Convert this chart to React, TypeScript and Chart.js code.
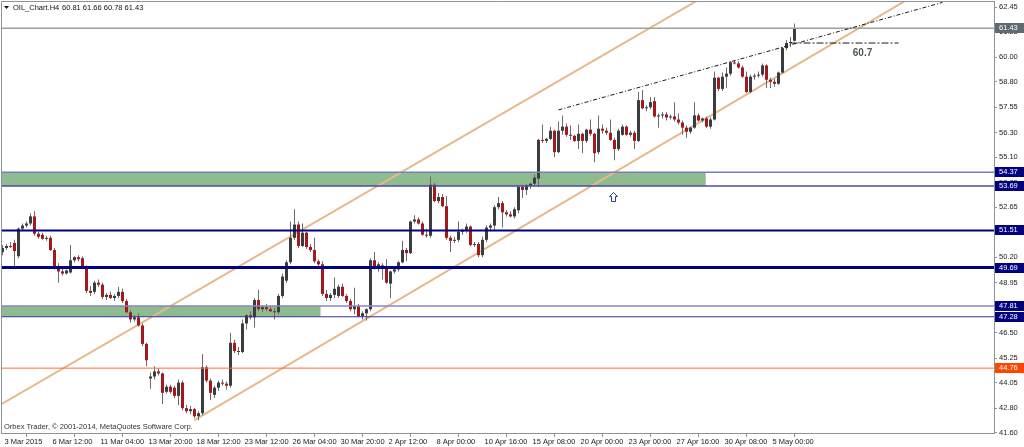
import { useEffect, useRef } from "react";
import { Chart, registerables } from "chart.js";

Chart.register(...registerables);

// ---------------- data ----------------
const symbolName = "OIL_Chart.H4";
const copyright = "Orbex Trader, © 2001-2014, MetaQuotes Software Corp.";

const opens = [
  50.45, 50.65, 50.75, 50.90, 50.25, 51.60, 51.75, 51.85, 52.20, 51.35,
  51.30, 51.10, 51.15, 50.55, 49.70, 49.50, 49.40, 49.45, 50.05, 50.20,
  50.15, 49.70, 48.55, 48.50, 48.95, 48.85, 48.25, 48.35, 48.20, 48.30,
  48.50, 48.05, 47.50, 47.15, 47.25, 46.85, 45.95, 44.25, 44.35, 44.60,
  44.50, 43.60, 43.85, 43.80, 43.40, 44.05, 42.80, 42.65, 42.75, 42.40,
  42.55, 44.80, 44.15, 43.45, 43.80, 44.05, 44.00, 43.90, 46.00, 45.60,
  45.55, 46.95, 47.35, 47.25, 48.10, 47.65, 47.75, 47.65, 47.55, 47.50,
  48.30, 49.05, 49.95, 51.15, 51.80, 50.75, 51.40, 50.70, 50.55, 50.00,
  49.85, 48.40, 48.20, 48.35, 48.30, 48.75, 48.30, 48.05, 47.65, 47.80,
  47.30, 47.45, 47.65, 50.05, 49.70, 49.80, 49.65, 48.90, 49.50, 49.60,
  49.95, 50.55, 50.40, 51.95, 52.05, 51.85, 51.30, 51.25, 53.75, 52.95,
  53.15, 52.70, 51.15, 51.00, 51.05, 51.45, 51.50, 51.70, 50.80, 50.85,
  50.30, 51.05, 51.65, 51.75, 52.65, 52.85, 52.40, 52.30, 52.20, 52.50,
  53.65, 53.50, 53.70, 53.80, 54.05, 55.95, 55.90, 56.00, 56.40, 55.35,
  56.40, 56.60, 56.20, 56.15, 55.90, 56.25, 55.90, 56.45, 56.25, 55.35,
  56.50, 56.40, 56.30, 55.95, 55.50, 56.20, 56.60, 56.20, 56.30, 55.90,
  57.90, 57.50, 57.55, 57.85, 57.10, 57.15, 57.20, 57.05, 57.10, 56.95,
  56.80, 56.55, 56.35, 56.55, 57.15, 56.90, 57.00, 56.60, 56.95, 59.00,
  58.45, 59.05, 59.20, 59.75, 59.70, 59.50, 59.05, 58.30, 59.05, 59.10,
  59.15, 59.60, 58.90, 58.80, 58.70, 59.25, 60.45, 60.70, 60.81,
];
const highs = [
  50.80, 50.85, 50.95, 51.05, 51.65, 51.85, 51.95, 52.35, 52.45, 51.45,
  51.40, 51.25, 51.25, 50.65, 49.90, 49.65, 49.60, 50.80, 50.25, 50.30,
  50.25, 49.80, 48.80, 49.05, 49.10, 48.95, 48.45, 48.50, 48.40, 48.75,
  48.65, 48.15, 47.60, 47.35, 47.45, 46.95, 46.00, 44.55, 44.85, 44.75,
  44.55, 43.95, 43.95, 43.90, 44.20, 44.15, 42.95, 42.90, 42.80, 42.65,
  45.45, 44.90, 44.25, 43.90, 44.15, 44.20, 44.10, 46.50, 46.15, 45.80,
  47.15, 47.40, 47.55, 48.20, 48.60, 47.85, 47.90, 47.80, 47.70, 48.40,
  49.40, 50.05, 51.95, 52.55, 51.95, 51.85, 51.45, 50.85, 51.15, 50.10,
  50.00, 48.60, 48.45, 49.20, 48.85, 48.90, 48.40, 48.15, 48.70, 47.90,
  47.55, 47.70, 50.15, 50.45, 49.95, 49.90, 50.10, 49.55, 49.70, 50.00,
  51.00, 50.65, 52.00, 52.25, 52.15, 51.95, 51.60, 54.15, 53.85, 53.35,
  53.30, 53.20, 51.25, 51.20, 51.95, 51.60, 51.85, 51.75, 50.95, 50.95,
  51.20, 51.75, 51.85, 52.75, 53.15, 52.95, 52.50, 52.45, 52.65, 53.70,
  53.75, 53.80, 53.85, 54.25, 56.00, 56.70, 56.05, 56.60, 56.45, 56.85,
  57.15, 56.75, 56.65, 56.20, 56.70, 56.30, 56.50, 56.95, 56.30, 57.15,
  56.70, 56.55, 56.95, 56.05, 56.50, 56.70, 56.65, 56.40, 56.40, 58.30,
  58.40, 57.65, 58.05, 58.05, 57.25, 57.30, 57.30, 57.20, 57.80, 57.25,
  56.90, 56.65, 56.60, 57.80, 57.25, 57.05, 57.10, 57.05, 59.30, 59.05,
  59.25, 59.50, 59.80, 59.85, 59.80, 59.60, 59.30, 59.15, 59.20, 59.30,
  59.70, 59.65, 59.00, 58.95, 59.30, 60.50, 60.85, 61.00, 61.66,
];
const lows = [
  50.30, 50.55, 50.65, 49.70, 50.15, 51.50, 51.65, 51.75, 51.25, 51.10,
  51.05, 51.00, 50.50, 49.60, 48.95, 49.30, 49.35, 49.40, 49.95, 50.00,
  49.65, 48.45, 48.30, 48.40, 48.75, 48.15, 48.10, 48.15, 48.05, 48.20,
  47.95, 47.45, 47.00, 47.05, 46.80, 45.85, 44.85, 43.75, 44.20, 44.40,
  43.00, 43.50, 43.50, 43.30, 42.95, 42.70, 42.55, 42.50, 42.30, 42.20,
  42.45, 44.05, 43.20, 43.30, 43.65, 43.90, 43.70, 43.80, 45.50, 45.40,
  45.50, 46.65, 47.15, 46.75, 47.55, 47.50, 47.55, 47.50, 47.15, 47.40,
  48.20, 48.95, 49.85, 51.05, 50.65, 50.70, 50.60, 50.45, 49.90, 49.70,
  48.30, 48.05, 48.05, 48.20, 48.20, 48.25, 47.95, 47.55, 47.40, 47.25,
  47.15, 47.10, 47.55, 49.60, 49.50, 49.10, 48.90, 48.20, 49.40, 49.50,
  49.90, 50.00, 50.35, 51.85, 51.80, 51.25, 51.15, 51.15, 52.90, 52.85,
  52.65, 51.05, 50.45, 50.90, 50.95, 51.30, 51.40, 50.75, 50.70, 50.20,
  50.20, 50.95, 51.50, 51.55, 52.55, 51.65, 52.20, 52.15, 52.10, 52.35,
  53.10, 53.25, 53.55, 53.70, 53.65, 55.80, 55.80, 55.95, 55.10, 55.30,
  56.20, 56.10, 55.95, 55.85, 55.50, 55.30, 55.80, 56.15, 54.85, 55.25,
  56.25, 56.20, 55.90, 54.95, 55.40, 56.15, 56.15, 56.10, 55.50, 55.85,
  57.45, 57.35, 57.45, 57.05, 56.55, 57.00, 56.90, 56.95, 56.85, 56.70,
  56.20, 56.05, 56.25, 56.50, 56.85, 56.80, 56.55, 56.50, 56.90, 58.35,
  58.35, 58.50, 59.10, 59.65, 59.45, 59.00, 58.25, 58.25, 58.90, 59.00,
  59.05, 58.50, 58.50, 58.55, 58.65, 59.20, 60.35, 60.50, 60.78,
];
const closes = [
  50.65, 50.75, 50.70, 50.50, 51.60, 51.75, 51.85, 52.20, 51.35, 51.20,
  51.10, 51.15, 50.55, 49.70, 49.50, 49.40, 49.55, 50.05, 50.20, 50.10,
  49.70, 48.55, 48.45, 48.95, 48.85, 48.25, 48.35, 48.20, 48.30, 48.50,
  48.05, 47.50, 47.15, 47.25, 46.85, 45.95, 45.15, 44.35, 44.60, 44.50,
  43.55, 43.85, 43.60, 43.40, 44.05, 42.80, 42.65, 42.75, 42.40, 42.55,
  44.80, 44.15, 43.55, 43.80, 44.05, 44.00, 43.90, 46.00, 45.60, 45.55,
  46.95, 47.35, 47.25, 48.10, 47.65, 47.75, 47.65, 47.55, 47.50, 48.30,
  49.25, 49.95, 51.15, 51.80, 50.75, 51.40, 50.70, 50.55, 50.00, 49.85,
  48.40, 48.20, 48.35, 48.65, 48.75, 48.30, 48.05, 47.65, 47.80, 47.30,
  47.45, 47.65, 50.05, 49.70, 49.85, 49.65, 48.95, 49.50, 49.60, 49.95,
  50.55, 50.40, 51.95, 52.05, 51.85, 51.30, 51.25, 53.75, 52.95, 53.15,
  52.70, 51.15, 51.00, 51.05, 51.45, 51.50, 51.70, 50.80, 50.85, 50.30,
  51.05, 51.65, 51.75, 52.65, 52.85, 52.40, 52.30, 52.20, 52.55, 53.65,
  53.50, 53.70, 53.80, 54.10, 55.95, 55.90, 56.00, 56.40, 55.35, 56.40,
  56.60, 56.20, 56.15, 55.90, 56.25, 55.90, 56.45, 56.25, 55.30, 56.50,
  56.40, 56.30, 55.95, 55.50, 56.40, 56.60, 56.20, 56.30, 55.90, 57.90,
  57.50, 57.55, 57.80, 57.10, 57.15, 57.20, 57.05, 57.10, 56.95, 56.80,
  56.55, 56.35, 56.55, 57.15, 56.90, 57.00, 56.60, 56.95, 59.00, 58.45,
  59.05, 59.20, 59.75, 59.70, 59.50, 59.05, 58.30, 59.05, 59.10, 59.15,
  59.60, 58.90, 58.80, 58.70, 59.25, 60.45, 60.70, 60.75, 61.43,
];

const timeLabels = [
  "3 Mar 2015", "6 Mar 12:00", "11 Mar 04:00", "13 Mar 20:00", "18 Mar 12:00",
  "23 Mar 12:00", "26 Mar 04:00", "30 Mar 20:00", "2 Apr 12:00", "8 Apr 00:00",
  "10 Apr 16:00", "15 Apr 08:00", "20 Apr 00:00", "23 Apr 00:00", "27 Apr 16:00",
  "30 Apr 08:00", "5 May 00:00",
];
const barsPerLabel = 12;

const priceTicks = [
  62.45, 61.25, 60.0, 58.8, 57.55, 56.3, 55.1, 53.85, 52.65, 51.4,
  50.2, 48.95, 47.75, 46.5, 45.25, 44.05, 42.8, 41.6,
];

const levelPrices = [61.43, 54.37, 53.69, 51.51, 49.69, 47.81, 47.28, 44.76];

const zoneLow = [53.69, 47.28];
const zoneHigh = [54.37, 47.81];
const zoneEndBar = [175.8, 79.5];

const channelUpperX = [-1, 180];
const channelUpperY = [42.91, 63.5];
const channelLowerX = [48, 227];
const channelLowerY = [42.21, 62.92];
const wedgeX = [139, 235];
const wedgeY = [57.42, 62.69];
const targetPrice = 60.7;
const targetX = [197, 224];
const targetLabelBar = 215;
const targetLabelPrice = 60.21;
const arrowBar = 152.6;
const arrowPrice = 53.15;

// ---------------- styles / geometry ----------------
const X_MIN = -0.375;
const X_MAX = 247.875;
const Y_MIN = 41.58;
const Y_MAX = 62.76;

const FONT_FAMILY = "'Liberation Sans', Arial, sans-serif";
const AXIS_COLOR = "#8a9499";
const TEXT_COLOR = "#222222";
const BULL = "#3a3c40";
const BEAR = "#a5171a";
const WICK = "#6c6c6c";
const ZONE_FILL = "#8fbc8f";
const CHANNEL = "#e6b98a";

const levelStyles = [
  { color: "#a0a0a0", width: 1.5, box: "#5f6b72" },
  { color: "#7b7bc4", width: 1.5, box: "#000080" },
  { color: "#4a4aaa", width: 1.5, box: "#000080" },
  { color: "#000080", width: 2, box: "#000080" },
  { color: "#000080", width: 3, box: "#000080" },
  { color: "#8787cc", width: 1.5, box: "#000080" },
  { color: "#33339a", width: 1.2, box: "#000080" },
  { color: "#ff6a3d", width: 1, box: "#ff4500" },
];

const overlayPlugin = {
  id: "mtOverlay",
  beforeDatasetsDraw(chart: any) {
    const { ctx, chartArea: a, scales } = chart;
    const xs = scales.x;
    const ys = scales.y;
    ctx.save();
    ctx.beginPath();
    ctx.rect(a.left, a.top, a.right - a.left, a.bottom - a.top);
    ctx.clip();
    ctx.fillStyle = ZONE_FILL;
    zoneLow.forEach((lo, k) => {
      const y0 = ys.getPixelForValue(zoneHigh[k]);
      const y1 = ys.getPixelForValue(lo);
      const x1 = xs.getPixelForValue(zoneEndBar[k]);
      ctx.fillRect(a.left, y0, x1 - a.left, y1 - y0);
    });
    ctx.restore();
  },
  afterDraw(chart: any) {
    const { ctx, chartArea: a, scales } = chart;
    const xs = scales.x;
    const ys = scales.y;
    const W = chart.width;
    ctx.save();

    // frame (top + left)
    ctx.strokeStyle = AXIS_COLOR;
    ctx.lineWidth = 1;
    ctx.beginPath();
    ctx.moveTo(a.left + 0.5, a.bottom);
    ctx.lineTo(a.left + 0.5, a.top + 0.5);
    ctx.lineTo(a.right, a.top + 0.5);
    ctx.stroke();

    // target label
    ctx.font = `bold 10px ${FONT_FAMILY}`;
    ctx.fillStyle = "#50575d";
    ctx.textAlign = "center";
    ctx.textBaseline = "middle";
    ctx.fillText(
      String(targetPrice),
      xs.getPixelForValue(targetLabelBar),
      ys.getPixelForValue(targetLabelPrice)
    );

    // arrow mark
    const ax = Math.round(xs.getPixelForValue(arrowBar)) + 0.5;
    const ay = Math.round(ys.getPixelForValue(arrowPrice)) + 0.5;
    ctx.beginPath();
    ctx.moveTo(ax, ay - 5);
    ctx.lineTo(ax + 4, ay - 1);
    ctx.lineTo(ax + 2, ay - 1);
    ctx.lineTo(ax + 2, ay + 4);
    ctx.lineTo(ax - 2, ay + 4);
    ctx.lineTo(ax - 2, ay - 1);
    ctx.lineTo(ax - 4, ay - 1);
    ctx.closePath();
    ctx.fillStyle = "#ffffff";
    ctx.fill();
    ctx.strokeStyle = "#24457e";
    ctx.stroke();

    // price boxes on the axis
    ctx.font = `7.5px ${FONT_FAMILY}`;
    ctx.textAlign = "left";
    ctx.textBaseline = "middle";
    levelPrices.forEach((p, k) => {
      const y = ys.getPixelForValue(p);
      ctx.fillStyle = levelStyles[k].box;
      ctx.fillRect(a.right + 1, Math.round(y) - 5, W - a.right - 1, 10);
      ctx.fillStyle = "#ffffff";
      ctx.fillText(p.toFixed(2), a.right + 5, Math.round(y));
    });

    // title
    const last = opens.length - 1;
    ctx.fillStyle = "#111111";
    ctx.beginPath();
    ctx.moveTo(4, 6);
    ctx.lineTo(9, 6);
    ctx.lineTo(6.5, 9);
    ctx.closePath();
    ctx.fill();
    ctx.font = `7.5px ${FONT_FAMILY}`;
    ctx.fillText(symbolName, 13, 8);
    ctx.fillText(
      [opens[last], highs[last], lows[last], closes[last]].map((v) => v.toFixed(2)).join(" "),
      62,
      8
    );
    // copyright
    ctx.fillStyle = "#333333";
    ctx.fillText(copyright, 4, 427);
    ctx.restore();
  },
};

function lineSet(xsArr: number[], ysArr: number[], color: string, width: number, order: number, dash: number[] = []) {
  return {
    type: "line" as const,
    data: xsArr.map((x, i) => ({ x, y: ysArr[i] })),
    borderColor: color,
    borderWidth: width,
    borderDash: dash,
    pointRadius: 0,
    fill: false,
    tension: 0,
    order,
  };
}

export default function App() {
  const ref = useRef<HTMLCanvasElement>(null);

  useEffect(() => {
    const idx = opens.map((_, i) => i);
    const wickData = idx.map((i) => ({ x: i, y: [lows[i], highs[i]] }));
    const bodyData = idx.map((i) => ({ x: i, y: [opens[i], closes[i]] }));
    const bodyColors = idx.map((i) => (closes[i] >= opens[i] ? BULL : BEAR));

    const datasets: any[] = [
      lineSet(channelUpperX, channelUpperY, CHANNEL, 2, 10),
      lineSet(channelLowerX, channelLowerY, CHANNEL, 2, 10),
      {
        type: "bar",
        data: wickData,
        backgroundColor: WICK,
        borderWidth: 0,
        grouped: false,
        barThickness: 1,
        maxBarThickness: 1,
        inflateAmount: 0,
        order: 6,
      },
      {
        type: "bar",
        data: bodyData,
        backgroundColor: bodyColors,
        borderWidth: 0,
        grouped: false,
        barThickness: 3,
        maxBarThickness: 3,
        minBarLength: 1,
        inflateAmount: 0,
        order: 5,
      },
      ...levelPrices.map((p, k) =>
        lineSet([X_MIN - 2, X_MAX + 2], [p, p], levelStyles[k].color, levelStyles[k].width, 3)
      ),
      lineSet(wedgeX, wedgeY, "#1a1a1a", 1, 2, [4, 2, 1, 2]),
      lineSet(targetX, [targetPrice, targetPrice], "#1a1a1a", 1, 2, [7, 2, 2, 2]),
    ];

    const tickFont = { family: FONT_FAMILY, size: 7.5 };

    const chart = new Chart(ref.current as HTMLCanvasElement, {
      type: "bar",
      data: { datasets },
      options: {
        animation: false,
        responsive: false,
        devicePixelRatio: 1,
        events: [],
        layout: { padding: { left: 1, top: 1, right: 0, bottom: 0 } },
        plugins: { legend: { display: false }, tooltip: { enabled: false } },
        scales: {
          x: {
            type: "linear",
            position: "bottom",
            min: X_MIN,
            max: X_MAX,
            offset: false,
            afterBuildTicks: (s: any) => {
              s.ticks = timeLabels.map((_, k) => ({ value: k * barsPerLabel }));
            },
            afterFit: (s: any) => {
              s.height = 14;
              s.paddingLeft = 0;
              s.paddingRight = 0;
            },
            ticks: {
              autoSkip: false,
              maxRotation: 0,
              minRotation: 0,
              align: "start",
              labelOffset: 2,
              padding: 0,
              color: TEXT_COLOR,
              font: tickFont,
              callback: (v: any) => timeLabels[Math.round(Number(v) / barsPerLabel)] ?? "",
            },
            grid: { drawOnChartArea: false, drawTicks: true, tickLength: 4, color: AXIS_COLOR },
            border: { display: true, color: AXIS_COLOR, width: 1 },
          },
          y: {
            type: "linear",
            position: "right",
            min: Y_MIN,
            max: Y_MAX,
            afterBuildTicks: (s: any) => {
              s.ticks = priceTicks.map((v) => ({ value: v }));
            },
            afterFit: (s: any) => {
              s.width = 30;
              s.paddingTop = 0;
              s.paddingBottom = 0;
            },
            ticks: {
              autoSkip: false,
              padding: 2,
              color: TEXT_COLOR,
              font: tickFont,
              callback: (v: any) => Number(v).toFixed(2),
            },
            grid: { drawOnChartArea: false, drawTicks: true, tickLength: 3, color: AXIS_COLOR },
            border: { display: true, color: AXIS_COLOR, width: 1 },
          },
        },
      } as any,
      plugins: [overlayPlugin],
    } as any);

    return () => chart.destroy();
  }, []);

  return (
    <div style={{ position: "absolute", left: 0, top: 0, width: 1024, height: 447, background: "#ffffff" }}>
      <canvas ref={ref} width={1024} height={447} style={{ display: "block", width: 1024, height: 447 }} />
    </div>
  );
}
